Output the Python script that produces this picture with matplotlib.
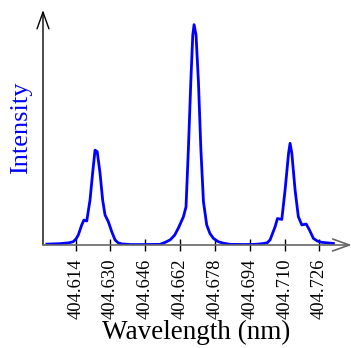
import matplotlib
matplotlib.use("Agg")
import matplotlib.pyplot as plt

# spectrum (wavelength in nm, intensity normalised)
wavelength = [
    404.6008, 404.6068, 404.6110, 404.6129, 404.6142, 404.6152, 404.6168,
    404.6178, 404.6191, 404.6206, 404.6218, 404.6229, 404.6239, 404.6252,
    404.6264, 404.6275, 404.6290, 404.6306, 404.6321, 404.6335, 404.6351,
    404.6390, 404.6459, 404.6528, 404.6551, 404.6574, 404.6595, 404.6612,
    404.6635, 404.6647, 404.6658, 404.6669, 404.6678, 404.6684, 404.6693,
    404.6704, 404.6715, 404.6727, 404.6742, 404.6757, 404.6773, 404.6795,
    404.6819, 404.6849, 404.6918, 404.6964, 404.6987, 404.6997, 404.7020,
    404.7033, 404.7056, 404.7067, 404.7087, 404.7102, 404.7118, 404.7125,
    404.7133, 404.7148, 404.7163, 404.7179, 404.7199, 404.7214, 404.7232,
    404.7250, 404.7271, 404.7324,
]
intensity = [
    0.004, 0.006, 0.010, 0.015, 0.028, 0.045, 0.091,
    0.113, 0.109, 0.204, 0.326, 0.430, 0.423, 0.326,
    0.204, 0.136, 0.106, 0.060, 0.023, 0.010, 0.005,
    0.002, 0.002, 0.003, 0.012, 0.023, 0.045, 0.077,
    0.128, 0.173, 0.439, 0.740, 0.952, 0.999, 0.952,
    0.740, 0.439, 0.197, 0.091, 0.052, 0.030, 0.015,
    0.008, 0.003, 0.002, 0.003, 0.005, 0.006, 0.010,
    0.023, 0.082, 0.120, 0.116, 0.249, 0.416, 0.461,
    0.416, 0.249, 0.128, 0.091, 0.095, 0.068, 0.030,
    0.018, 0.012, 0.007,
]
tick_values = [404.614, 404.630, 404.646, 404.662, 404.678, 404.694, 404.710, 404.726]

plt.rcParams["font.family"] = ["Liberation Serif", "DejaVu Serif"]

fig = plt.figure(figsize=(3.51, 3.48), dpi=100)
ax = fig.add_axes([0.1225, 0.296, 0.8745, 0.675])
ax.plot(wavelength, intensity, color="#0000ff", lw=2, solid_joinstyle="round")

ax.set_xlim(404.599, 404.740)
ax.set_ylim(0, 1.065)
for s in ax.spines.values():
    s.set_visible(False)

ax.set_yticks([])
ax.set_xticks(tick_values)
ax.set_xticklabels([f"{v:.3f}" for v in tick_values], rotation=90, fontsize=13.4)
ax.tick_params(axis="x", direction="inout", length=9, width=1, color="black", pad=5)

# axes drawn as arrows
ax.annotate("", xy=(0, 1), xytext=(0, 0), xycoords="axes fraction",
            arrowprops=dict(arrowstyle="->,head_length=1.2,head_width=0.43",
                            color="black", lw=1, shrinkA=0, shrinkB=0),
            annotation_clip=False)
ax.annotate("", xy=(1.006, 0), xytext=(0, 0), xycoords="axes fraction",
            arrowprops=dict(arrowstyle="->,head_length=1.2,head_width=0.43",
                            color="#666666", lw=1.2, shrinkA=0, shrinkB=0),
            annotation_clip=False)

ax.set_xlabel("Wavelength (nm)", fontsize=19.5, labelpad=1)
ax.set_ylabel("Intensity", fontsize=19, color="#0000ff", labelpad=8)

fig.savefig("out.png", dpi=100)
